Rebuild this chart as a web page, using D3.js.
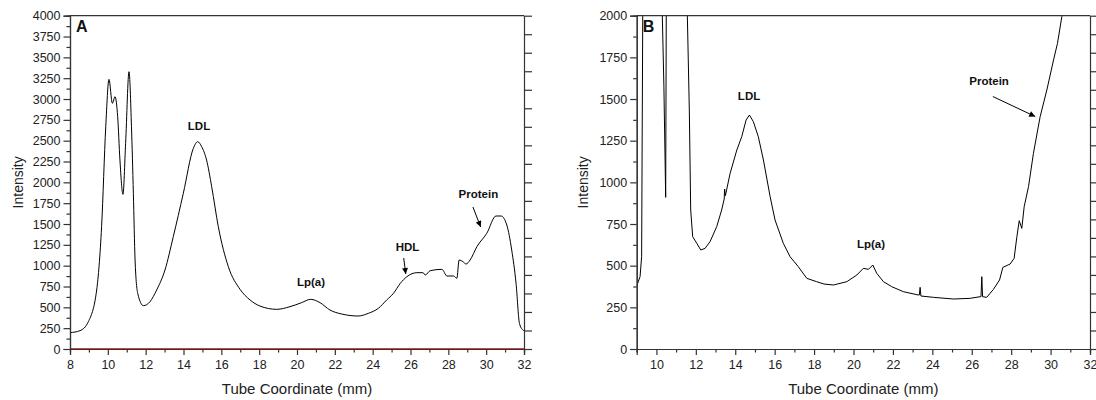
<!DOCTYPE html>
<html>
<head>
<meta charset="utf-8">
<script src="https://cdn.jsdelivr.net/npm/d3@7"></script>
<style>
body { margin: 0; background: #fff; }
svg { font-family: "Liberation Sans", Arial, sans-serif; }
.axis path, .axis line { stroke: #333; stroke-width: 1.2; }
.axis text { fill: #222; font-size: 12.5px; }
.trace { fill: none; stroke: #000; stroke-width: 1; }
.note { font-weight: bold; font-size: 11.5px; fill: #111; text-anchor: middle; }
</style>
</head>
<body>
<svg id="chart" width="1096" height="400"></svg>
<script>
// panel A : tube coordinate (mm) / intensity
const tubeA = [8, 8.53, 8.97, 9.41, 9.67, 9.89, 10.06, 10.24, 10.38, 10.52, 10.64, 10.80, 10.94, 11.12, 11.25, 11.35, 11.44, 11.58, 11.88, 12.23,
  12.58, 13.02, 13.46, 13.99, 14.52, 14.75, 14.96, 15.22, 15.49, 15.84, 16.37, 16.99, 17.52, 18.04, 18.93, 19.63, 20.24, 20.72, 21.22, 21.74,
  22.36, 23.24, 23.77, 24.30, 24.74, 25.10, 25.46, 25.81, 26.34, 26.66, 26.78, 27.04, 27.66, 27.93, 28.28, 28.45, 28.57, 28.77, 28.94, 29.15,
  29.51, 30.03, 30.52, 30.79, 31.09, 31.35, 31.58, 31.76, 31.94, 32];
const intA = [196, 220, 328, 708, 1468, 2668, 3236, 2948, 3028, 2788, 2268, 1856, 2468, 3328, 2668, 1868, 1068, 668, 520, 568,
  708, 948, 1348, 1868, 2408, 2488, 2428, 2268, 1948, 1468, 988, 716, 588, 516, 476, 508, 556, 596, 556, 468,
  420, 396, 428, 488, 588, 668, 788, 868, 916, 916, 888, 940, 956, 876, 876, 848, 1068, 1048, 1020, 1068,
  1228, 1388, 1596, 1596, 1488, 1188, 788, 308, 228, 220];

// panel B
const tubeB = [9, 9.17, 9.25, 9.33, 10.25, 10.30, 10.38, 10.47, 10.50, 10.55, 11.50, 11.57, 11.67, 11.74, 11.84, 12.05, 12.25, 12.47, 12.72, 13.06,
  13.31, 13.44, 13.46, 13.50, 13.74, 14.08, 14.33, 14.55, 14.72, 14.92, 15.17, 15.43, 15.77, 16.02, 16.44, 16.78, 17.20, 17.63, 18.13, 18.5,
  18.98, 19.66, 20.17, 20.50, 20.76, 20.98, 21.18, 21.52, 21.94, 22.53, 23.29, 23.34, 23.38, 23.42, 24.06, 25.07, 25.92, 26.43, 26.47, 26.51,
  26.55, 26.76, 27.10, 27.41, 27.58, 27.95, 28.15, 28.29, 28.41, 28.54, 28.66, 28.88, 29.13, 29.47, 29.81, 30.15, 30.35, 30.57, 30.8];
const intB = [378, 434, 554, 2600, 2600, 2000, 1575, 910, 2000, 2600, 2600, 2000, 1434, 834, 674, 634, 594, 604, 644, 734,
  834, 900, 960, 920, 1054, 1194, 1274, 1374, 1404, 1364, 1274, 1134, 914, 774, 634, 554, 494, 424, 404, 390,
  384, 404, 444, 484, 478, 504, 454, 404, 374, 344, 324, 324, 370, 318, 310, 300, 304, 314, 314, 434,
  314, 310, 358, 414, 490, 510, 544, 674, 770, 724, 854, 974, 1174, 1394, 1554, 1734, 1834, 1994, 2300];

// labels: [text, x, y] in data units, arrows: [x1, y1, x2, y2]
const notesA = [["LDL", 14.82, 2628], ["Lp(a)", 20.74, 756], ["HDL", 25.84, 1176], ["Protein", 29.59, 1812]];
const arrowsA = [[25.64, 1092, 25.75, 900], [29.30, 1704, 29.71, 1464]];
const notesB = [["LDL", 14.70, 1495], ["Lp(a)", 20.89, 607], ["Protein", 26.88, 1586]];
const arrowsB = [[27.07, 1515, 29.22, 1395]];

const svg = d3.select("#chart");

svg.append("defs").append("marker")
  .attr("id", "head")
  .attr("viewBox", "0 0 10 10")
  .attr("refX", 10).attr("refY", 5)
  .attr("markerWidth", 7).attr("markerHeight", 6)
  .attr("markerUnits", "userSpaceOnUse")
  .attr("orient", "auto")
  .append("path").attr("d", "M0,0L10,5L0,10z").attr("fill", "#000");

function panel(o) {
  var top = 15.7, bottom = 349;
  var x = d3.scaleLinear().domain(o.xdom).range([o.left, o.right]);
  var y = d3.scaleLinear().domain([0, o.ymax]).range([bottom, top]);
  var g = svg.append("g");

  g.append("clipPath").attr("id", "clip" + o.name)
    .append("rect").attr("x", o.left).attr("y", top)
    .attr("width", o.right - o.left).attr("height", bottom - top);

  var pts = o.xs.map(function(d, i) { return [d, o.ys[i]]; });
  var line = d3.line().x(function(d) { return x(d[0]); }).y(function(d) { return y(d[1]); });
  if (o.smooth) line.curve(d3.curveMonotoneX);
  g.append("path").attr("class", "trace")
    .attr("clip-path", "url(#clip" + o.name + ")")
    .datum(pts).attr("d", line);

  if (o.zeroLine) {
    g.append("line")
      .attr("x1", x(o.xdom[0])).attr("x2", x(o.xdom[1]))
      .attr("y1", y(0)).attr("y2", y(0))
      .attr("stroke", "#c00000").attr("stroke-width", 1.6);
  }

  // bottom axis, minor then major
  var xMinor = d3.range(o.xdom[0], o.xdom[1] + 1).filter(function(v) { return v % 2 == 1; });
  var xMajor = d3.range(o.xdom[0], o.xdom[1] + 1).filter(function(v) { return v % 2 == 0; });
  g.append("g").attr("class", "axis")
    .attr("transform", "translate(0," + bottom + ")")
    .call(d3.axisBottom(x).tickValues(xMinor).tickSize(3.5).tickFormat(""));
  g.append("g").attr("class", "axis")
    .attr("transform", "translate(0," + bottom + ")")
    .call(d3.axisBottom(x).tickValues(xMajor).tickSize(6).tickPadding(5).tickFormat(d3.format("d")));

  // left axis
  g.append("g").attr("class", "axis")
    .attr("transform", "translate(" + o.left + ",0)")
    .call(d3.axisLeft(y).tickValues(d3.range(125, o.ymax, 250)).tickSize(3.5).tickFormat(""));
  g.append("g").attr("class", "axis")
    .attr("transform", "translate(" + o.left + ",0)")
    .call(d3.axisLeft(y).tickValues(d3.range(0, o.ymax + 1, 250)).tickSize(6.5).tickPadding(3).tickFormat(d3.format("d")));

  // right axis: 18 even ticks, no labels
  var yr = d3.scaleLinear().domain([0, 18]).range([bottom, top]);
  g.append("g").attr("class", "axis")
    .attr("transform", "translate(" + o.right + ",0)")
    .call(d3.axisRight(yr).tickValues(d3.range(19)).tickSize(8).tickSizeOuter(0).tickFormat(""));

  // top frame
  g.append("line").attr("x1", o.left).attr("x2", o.right).attr("y1", top).attr("y2", top)
    .attr("stroke", "#333").attr("stroke-width", 1.2);

  g.append("text").attr("x", o.left + 6).attr("y", top + 16)
    .attr("font-weight", "bold").attr("font-size", 16).attr("fill", "#111").text(o.name);

  g.append("text")
    .attr("transform", "translate(" + o.ytitleX + "," + ((top + bottom) / 2) + ") rotate(-90)")
    .attr("text-anchor", "middle").attr("font-size", 14).attr("fill", "#222").text("Intensity");
  g.append("text").attr("x", (o.left + o.right) / 2).attr("y", 394)
    .attr("text-anchor", "middle").attr("font-size", 15).attr("fill", "#222").text("Tube Coordinate (mm)");

  g.selectAll(".note").data(o.notes).enter().append("text").attr("class", "note")
    .attr("x", function(d) { return x(d[1]); }).attr("y", function(d) { return y(d[2]); })
    .text(function(d) { return d[0]; });
  g.selectAll(".arrow").data(o.arrows).enter().append("line").attr("class", "arrow")
    .attr("x1", function(d) { return x(d[0]); }).attr("y1", function(d) { return y(d[1]); })
    .attr("x2", function(d) { return x(d[2]); }).attr("y2", function(d) { return y(d[3]); })
    .attr("stroke", "#000").attr("stroke-width", 1).attr("marker-end", "url(#head)");
}

panel({name: "A", left: 70, right: 524, xdom: [8, 32], ymax: 4000, xs: tubeA, ys: intA,
  smooth: true, zeroLine: true, notes: notesA, arrows: arrowsA, ytitleX: 23});
panel({name: "B", left: 636.7, right: 1090, xdom: [9, 32], ymax: 2000, xs: tubeB, ys: intB,
  smooth: false, zeroLine: false, notes: notesB, arrows: arrowsB, ytitleX: 588});
</script>
</body>
</html>
